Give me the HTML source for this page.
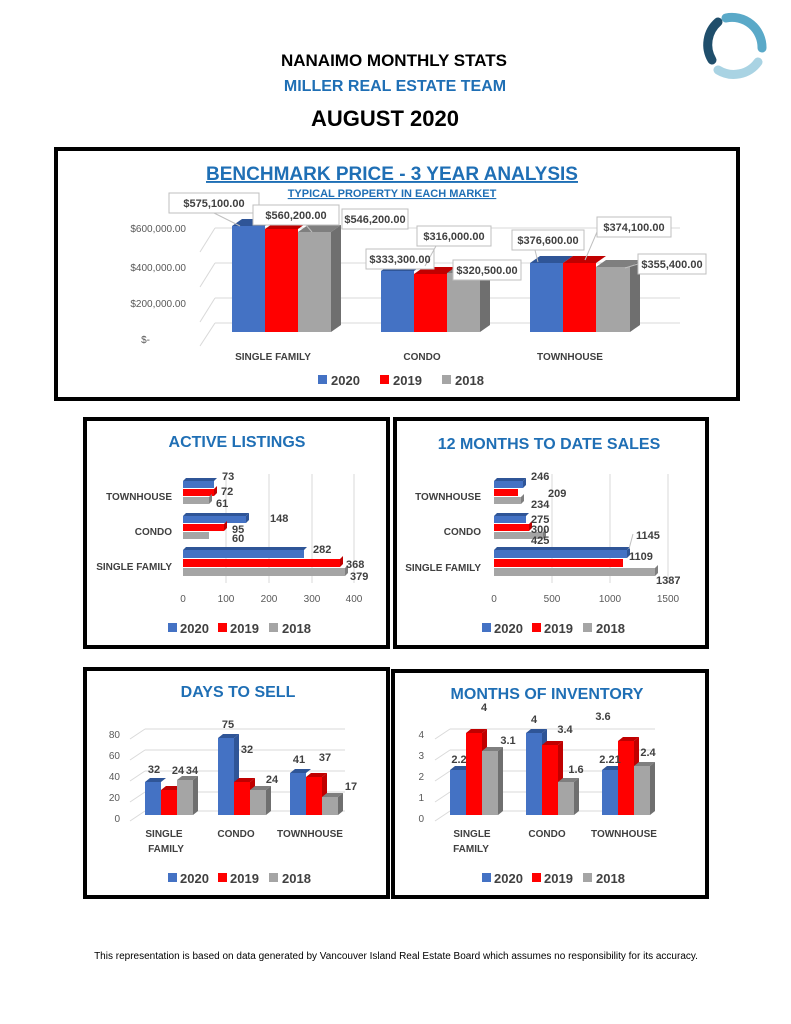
<!DOCTYPE html>
<html><head><meta charset="utf-8"><style>
html,body{margin:0;padding:0;background:#fff;}
svg{display:block;font-family:"Liberation Sans",sans-serif;}
.b{font-weight:bold;}
.lab{font-size:10px;fill:#404040;font-weight:bold;}
.ax{font-size:10px;fill:#595959;}
.val{font-size:11px;fill:#404040;font-weight:bold;}
.t{fill:#1F6FB5;font-weight:bold;text-anchor:middle;}
.g{stroke:#D9D9D9;stroke-width:1;}
</style></head><body>
<svg width="791" height="1024" viewBox="0 0 791 1024" xmlns="http://www.w3.org/2000/svg">
<rect width="791" height="1024" fill="#fff"/>
<!-- logo -->
<g fill="none" stroke-linecap="round">
<path d="M712 60 A30 30 0 0 1 718 22" stroke="#1F4E6B" stroke-width="9"/>
<path d="M726 18 A30 30 0 0 1 762 48" stroke="#5AA9C8" stroke-width="9"/>
<path d="M758 62 A30 30 0 0 1 718 70" stroke="#A9D3E3" stroke-width="9"/>
</g>
<!-- header -->
<text x="394" y="66" text-anchor="middle" class="b" font-size="17">NANAIMO MONTHLY STATS</text>
<text x="395" y="91" text-anchor="middle" class="b" font-size="16" fill="#1F6FB5">MILLER REAL ESTATE TEAM</text>
<text x="385" y="126" text-anchor="middle" class="b" font-size="22">AUGUST 2020</text>

<!-- box 1 -->
<rect x="56" y="149" width="682" height="250" fill="none" stroke="#000" stroke-width="4"/>
<text x="392" y="180" class="t" font-size="19" text-decoration="underline">BENCHMARK PRICE - 3 YEAR ANALYSIS</text>
<text x="392" y="197" class="t" font-size="11" text-decoration="underline">TYPICAL PROPERTY IN EACH MARKET</text>
<g class="g"><line x1="215" y1="228" x2="680" y2="228"/><line x1="215" y1="263" x2="680" y2="263"/><line x1="215" y1="298" x2="680" y2="298"/><line x1="215" y1="323" x2="680" y2="323"/>
<line x1="200" y1="252" x2="215" y2="228"/><line x1="200" y1="287" x2="215" y2="263"/><line x1="200" y1="322" x2="215" y2="298"/><line x1="200" y1="346" x2="215" y2="323"/></g>
<g class="ax" font-size="10.5" text-anchor="end" fill="#404040">
<text x="186" y="232">$600,000.00</text><text x="186" y="271">$400,000.00</text><text x="186" y="307">$200,000.00</text><text x="150" y="343">$-</text></g>
<!-- bars big -->
<g>
<polygon points="232,226 242,219 275,219 265,226" fill="#2F5597"/><rect x="232" y="226" width="33" height="106" fill="#4472C4"/>
<polygon points="265,229 275,222 308,222 298,229" fill="#C00000"/><rect x="265" y="229" width="33" height="103" fill="#FF0000"/>
<polygon points="298,232 308,225 341,225 331,232" fill="#7F7F7F"/><polygon points="331,232 341,225 341,325 331,332" fill="#6F6F6F"/><rect x="298" y="232" width="33" height="100" fill="#A5A5A5"/>

<polygon points="381,271 391,264 424,264 414,271" fill="#2F5597"/><rect x="381" y="271" width="33" height="61" fill="#4472C4"/>
<polygon points="414,274 424,267 457,267 447,274" fill="#C00000"/><rect x="414" y="274" width="33" height="58" fill="#FF0000"/>
<polygon points="447,273 457,266 490,266 480,273" fill="#7F7F7F"/><polygon points="480,273 490,266 490,325 480,332" fill="#6F6F6F"/><rect x="447" y="273" width="33" height="59" fill="#A5A5A5"/>

<polygon points="530,263 540,256 573,256 563,263" fill="#2F5597"/><rect x="530" y="263" width="33" height="69" fill="#4472C4"/>
<polygon points="563,263 573,256 606,256 596,263" fill="#C00000"/><rect x="563" y="263" width="33" height="69" fill="#FF0000"/>
<polygon points="596,267 606,260 640,260 630,267" fill="#7F7F7F"/><polygon points="630,267 640,260 640,325 630,332" fill="#6F6F6F"/><rect x="596" y="267" width="34" height="65" fill="#A5A5A5"/>
</g>
<!-- labels big -->
<g fill="#fff" stroke="#BFBFBF" stroke-width="1">
<rect x="169" y="193" width="90" height="20"/><rect x="253" y="205" width="86" height="20"/><rect x="342" y="209" width="66" height="20"/>
<rect x="366" y="249" width="68" height="20"/><rect x="417" y="226" width="74" height="20"/><rect x="453" y="260" width="68" height="20"/>
<rect x="512" y="230" width="72" height="20"/><rect x="597" y="217" width="74" height="20"/><rect x="638" y="254" width="68" height="20"/>
</g>
<g stroke="#BFBFBF"><line x1="214" y1="213" x2="240" y2="226"/><line x1="306" y1="225" x2="312" y2="232"/><line x1="425" y1="266" x2="436" y2="246"/><line x1="535" y1="250" x2="538" y2="262"/><line x1="597" y1="232" x2="585" y2="260"/><line x1="638" y1="264" x2="625" y2="268"/></g>
<g class="val" font-size="10.5" text-anchor="middle">
<text x="214" y="207">$575,100.00</text><text x="296" y="219">$560,200.00</text><text x="375" y="223">$546,200.00</text>
<text x="400" y="263">$333,300.00</text><text x="454" y="240">$316,000.00</text><text x="487" y="274">$320,500.00</text>
<text x="548" y="244">$376,600.00</text><text x="634" y="231">$374,100.00</text><text x="672" y="268">$355,400.00</text></g>
<g class="lab" font-size="11" text-anchor="middle"><text x="273" y="360">SINGLE FAMILY</text><text x="422" y="360">CONDO</text><text x="570" y="360">TOWNHOUSE</text></g>
<g class="b" font-size="13" fill="#404040">
<rect x="318" y="375" width="9" height="9" fill="#4472C4"/><text x="331" y="385">2020</text>
<rect x="380" y="375" width="9" height="9" fill="#FF0000"/><text x="393" y="385">2019</text>
<rect x="442" y="375" width="9" height="9" fill="#A5A5A5"/><text x="455" y="385">2018</text></g>

<!-- boxes -->
<g fill="none" stroke="#000" stroke-width="4">
<rect x="85" y="419" width="303" height="228"/><rect x="395" y="419" width="312" height="228"/>
<rect x="85" y="669" width="303" height="228"/><rect x="393" y="671" width="314" height="226"/></g>

<!-- Active listings -->
<text x="237" y="447" class="t" font-size="16">ACTIVE LISTINGS</text>
<g class="g"><line x1="226" y1="474" x2="226" y2="583"/><line x1="269" y1="474" x2="269" y2="583"/><line x1="312" y1="474" x2="312" y2="583"/><line x1="354" y1="474" x2="354" y2="583"/></g>
<g>
<polygon points="183,481 186,478 217,478 214,481" fill="#2F5597"/><rect x="183" y="481" width="31" height="7" fill="#4472C4"/>
<rect x="183" y="489" width="31" height="7" fill="#FF0000"/><polygon points="214,489 217,486 217,493 214,496" fill="#C00000"/>
<rect x="183" y="497" width="26" height="7" fill="#A5A5A5"/><polygon points="209,497 212,494 212,501 209,504" fill="#7F7F7F"/>
<polygon points="183,516 186,513 249,513 246,516" fill="#2F5597"/><rect x="183" y="516" width="63" height="7" fill="#4472C4"/><polygon points="246,516 249,513 249,520 246,523" fill="#2F5597"/>
<rect x="183" y="524" width="41" height="7" fill="#FF0000"/><polygon points="224,524 227,521 227,528 224,531" fill="#C00000"/>
<rect x="183" y="532" width="26" height="7" fill="#A5A5A5"/>
<polygon points="183,550 186,547 307,547 304,550" fill="#2F5597"/><rect x="183" y="550" width="121" height="8" fill="#4472C4"/>
<rect x="183" y="559" width="157" height="8" fill="#FF0000"/><polygon points="340,559 343,556 343,564 340,567" fill="#C00000"/>
<rect x="183" y="568" width="162" height="8" fill="#A5A5A5"/><polygon points="345,568 348,565 348,573 345,576" fill="#7F7F7F"/>
</g>
<g class="lab" text-anchor="end"><text x="172" y="500">TOWNHOUSE</text><text x="172" y="535">CONDO</text><text x="172" y="570">SINGLE FAMILY</text></g>
<g class="val"><text x="222" y="480">73</text><text x="221" y="495">72</text><text x="216" y="507">61</text><text x="270" y="522">148</text><text x="232" y="533">95</text><text x="232" y="542">60</text><text x="313" y="553">282</text><text x="346" y="568">368</text><text x="350" y="580">379</text></g>
<g class="ax" text-anchor="middle"><text x="183" y="602">0</text><text x="226" y="602">100</text><text x="269" y="602">200</text><text x="312" y="602">300</text><text x="354" y="602">400</text></g>
<g class="b" font-size="13" fill="#404040">
<rect x="168" y="623" width="9" height="9" fill="#4472C4"/><text x="180" y="633">2020</text>
<rect x="218" y="623" width="9" height="9" fill="#FF0000"/><text x="230" y="633">2019</text>
<rect x="269" y="623" width="9" height="9" fill="#A5A5A5"/><text x="282" y="633">2018</text></g>

<!-- 12 months sales -->
<text x="549" y="449" class="t" font-size="16">12 MONTHS TO DATE SALES</text>
<g class="g"><line x1="552" y1="474" x2="552" y2="583"/><line x1="610" y1="474" x2="610" y2="583"/><line x1="668" y1="474" x2="668" y2="583"/></g>
<g>
<polygon points="494,481 497,478 526,478 523,481" fill="#2F5597"/><rect x="494" y="481" width="29" height="7" fill="#4472C4"/><polygon points="523,481 526,478 526,485 523,488" fill="#2F5597"/>
<rect x="494" y="489" width="24" height="7" fill="#FF0000"/>
<rect x="494" y="497" width="27" height="7" fill="#A5A5A5"/><polygon points="521,497 524,494 524,501 521,504" fill="#7F7F7F"/>
<polygon points="494,516 497,513 529,513 526,516" fill="#2F5597"/><rect x="494" y="516" width="32" height="7" fill="#4472C4"/>
<rect x="494" y="524" width="35" height="7" fill="#FF0000"/><polygon points="529,524 532,521 532,528 529,531" fill="#C00000"/>
<rect x="494" y="532" width="49" height="7" fill="#A5A5A5"/><polygon points="543,532 546,529 546,536 543,539" fill="#7F7F7F"/>
<polygon points="494,550 497,547 630,547 627,550" fill="#2F5597"/><rect x="494" y="550" width="133" height="8" fill="#4472C4"/><polygon points="627,550 630,547 630,555 627,558" fill="#2F5597"/>
<rect x="494" y="559" width="129" height="8" fill="#FF0000"/>
<rect x="494" y="568" width="161" height="8" fill="#A5A5A5"/><polygon points="655,568 658,565 658,573 655,576" fill="#7F7F7F"/>
</g>
<g class="lab" text-anchor="end"><text x="481" y="500">TOWNHOUSE</text><text x="481" y="535">CONDO</text><text x="481" y="571">SINGLE FAMILY</text></g>
<g class="val"><text x="531" y="480">246</text><text x="548" y="497">209</text><text x="531" y="508">234</text><text x="531" y="523">275</text><text x="531" y="533">300</text><text x="531" y="544">425</text><text x="636" y="539">1145</text><text x="629" y="560">1109</text><text x="656" y="584">1387</text></g>
<line x1="633" y1="534" x2="629" y2="549" stroke="#BFBFBF"/>
<g class="ax" text-anchor="middle"><text x="494" y="602">0</text><text x="552" y="602">500</text><text x="610" y="602">1000</text><text x="668" y="602">1500</text></g>
<g class="b" font-size="13" fill="#404040">
<rect x="482" y="623" width="9" height="9" fill="#4472C4"/><text x="494" y="633">2020</text>
<rect x="532" y="623" width="9" height="9" fill="#FF0000"/><text x="544" y="633">2019</text>
<rect x="583" y="623" width="9" height="9" fill="#A5A5A5"/><text x="596" y="633">2018</text></g>

<!-- Days to sell -->
<text x="238" y="697" class="t" font-size="16">DAYS TO SELL</text>
<g class="g"><line x1="145" y1="729" x2="345" y2="729"/><line x1="145" y1="750" x2="345" y2="750"/><line x1="145" y1="771" x2="345" y2="771"/><line x1="145" y1="792" x2="345" y2="792"/><line x1="145" y1="811" x2="345" y2="811"/>
<line x1="130" y1="739" x2="145" y2="729"/><line x1="130" y1="760" x2="145" y2="750"/><line x1="130" y1="781" x2="145" y2="771"/><line x1="130" y1="802" x2="145" y2="792"/><line x1="130" y1="821" x2="145" y2="811"/></g>
<g class="ax" text-anchor="end"><text x="120" y="738">80</text><text x="120" y="759">60</text><text x="120" y="780">40</text><text x="120" y="801">20</text><text x="120" y="822">0</text></g>
<g>
<polygon points="145,782 150,778 166,778 161,782" fill="#2F5597"/><rect x="145" y="782" width="16" height="33" fill="#4472C4"/>
<polygon points="161,790 166,786 182,786 177,790" fill="#C00000"/><rect x="161" y="790" width="16" height="25" fill="#FF0000"/>
<polygon points="177,780 182,776 198,776 193,780" fill="#7F7F7F"/><polygon points="193,780 198,776 198,811 193,815" fill="#6F6F6F"/><rect x="177" y="780" width="16" height="35" fill="#A5A5A5"/>
<polygon points="218,738 223,734 239,734 234,738" fill="#2F5597"/><polygon points="234,738 239,734 239,811 234,815" fill="#2F5597"/><rect x="218" y="738" width="16" height="77" fill="#4472C4"/>
<polygon points="234,782 239,778 255,778 250,782" fill="#C00000"/><polygon points="250,782 255,778 255,811 250,815" fill="#C00000"/><rect x="234" y="782" width="16" height="33" fill="#FF0000"/>
<polygon points="250,790 255,786 271,786 266,790" fill="#7F7F7F"/><polygon points="266,790 271,786 271,811 266,815" fill="#6F6F6F"/><rect x="250" y="790" width="16" height="25" fill="#A5A5A5"/>
<polygon points="290,773 295,769 311,769 306,773" fill="#2F5597"/><rect x="290" y="773" width="16" height="42" fill="#4472C4"/>
<polygon points="306,777 311,773 327,773 322,777" fill="#C00000"/><polygon points="322,777 327,773 327,811 322,815" fill="#C00000"/><rect x="306" y="777" width="16" height="38" fill="#FF0000"/>
<polygon points="322,797 327,793 343,793 338,797" fill="#7F7F7F"/><polygon points="338,797 343,793 343,811 338,815" fill="#6F6F6F"/><rect x="322" y="797" width="16" height="18" fill="#A5A5A5"/>
</g>
<g class="val" text-anchor="middle"><text x="154" y="773">32</text><text x="178" y="774">24</text><text x="192" y="774">34</text><text x="228" y="728">75</text><text x="247" y="753">32</text><text x="272" y="783">24</text><text x="299" y="763">41</text><text x="325" y="761">37</text><text x="351" y="790">17</text></g>
<g class="lab" text-anchor="middle"><text x="164" y="837">SINGLE</text><text x="166" y="852">FAMILY</text><text x="236" y="837">CONDO</text><text x="310" y="837">TOWNHOUSE</text></g>
<g class="b" font-size="13" fill="#404040">
<rect x="168" y="873" width="9" height="9" fill="#4472C4"/><text x="180" y="883">2020</text>
<rect x="218" y="873" width="9" height="9" fill="#FF0000"/><text x="230" y="883">2019</text>
<rect x="269" y="873" width="9" height="9" fill="#A5A5A5"/><text x="282" y="883">2018</text></g>

<!-- Months of inventory -->
<text x="547" y="699" class="t" font-size="16">MONTHS OF INVENTORY</text>
<g class="g"><line x1="450" y1="729" x2="655" y2="729"/><line x1="450" y1="750" x2="655" y2="750"/><line x1="450" y1="771" x2="655" y2="771"/><line x1="450" y1="792" x2="655" y2="792"/><line x1="450" y1="811" x2="655" y2="811"/>
<line x1="435" y1="739" x2="450" y2="729"/><line x1="435" y1="760" x2="450" y2="750"/><line x1="435" y1="781" x2="450" y2="771"/><line x1="435" y1="802" x2="450" y2="792"/><line x1="435" y1="821" x2="450" y2="811"/></g>
<g class="ax" text-anchor="end"><text x="424" y="738">4</text><text x="424" y="759">3</text><text x="424" y="780">2</text><text x="424" y="801">1</text><text x="424" y="822">0</text></g>
<g>
<polygon points="450,770 455,766 471,766 466,770" fill="#2F5597"/><rect x="450" y="770" width="16" height="45" fill="#4472C4"/>
<polygon points="466,733 471,729 487,729 482,733" fill="#C00000"/><polygon points="482,733 487,729 487,811 482,815" fill="#C00000"/><rect x="466" y="733" width="16" height="82" fill="#FF0000"/>
<polygon points="482,751 487,747 503,747 498,751" fill="#7F7F7F"/><polygon points="498,751 503,747 503,811 498,815" fill="#6F6F6F"/><rect x="482" y="751" width="16" height="64" fill="#A5A5A5"/>
<polygon points="526,733 531,729 547,729 542,733" fill="#2F5597"/><polygon points="542,733 547,729 547,811 542,815" fill="#2F5597"/><rect x="526" y="733" width="16" height="82" fill="#4472C4"/>
<polygon points="542,745 547,741 563,741 558,745" fill="#C00000"/><polygon points="558,745 563,741 563,811 558,815" fill="#C00000"/><rect x="542" y="745" width="16" height="70" fill="#FF0000"/>
<polygon points="558,782 563,778 579,778 574,782" fill="#7F7F7F"/><polygon points="574,782 579,778 579,811 574,815" fill="#6F6F6F"/><rect x="558" y="782" width="16" height="33" fill="#A5A5A5"/>
<polygon points="602,770 607,766 623,766 618,770" fill="#2F5597"/><rect x="602" y="770" width="16" height="45" fill="#4472C4"/>
<polygon points="618,741 623,737 639,737 634,741" fill="#C00000"/><polygon points="634,741 639,737 639,811 634,815" fill="#C00000"/><rect x="618" y="741" width="16" height="74" fill="#FF0000"/>
<polygon points="634,766 639,762 655,762 650,766" fill="#7F7F7F"/><polygon points="650,766 655,762 655,811 650,815" fill="#6F6F6F"/><rect x="634" y="766" width="16" height="49" fill="#A5A5A5"/>
</g>
<g class="val" text-anchor="middle"><text x="459" y="763">2.2</text><text x="484" y="711">4</text><text x="508" y="744">3.1</text><text x="534" y="723">4</text><text x="565" y="733">3.4</text><text x="576" y="773">1.6</text><text x="610" y="763">2.21</text><text x="603" y="720">3.6</text><text x="648" y="756">2.4</text></g>
<g class="lab" text-anchor="middle"><text x="472" y="837">SINGLE</text><text x="471" y="852">FAMILY</text><text x="547" y="837">CONDO</text><text x="624" y="837">TOWNHOUSE</text></g>
<g class="b" font-size="13" fill="#404040">
<rect x="482" y="873" width="9" height="9" fill="#4472C4"/><text x="494" y="883">2020</text>
<rect x="532" y="873" width="9" height="9" fill="#FF0000"/><text x="544" y="883">2019</text>
<rect x="583" y="873" width="9" height="9" fill="#A5A5A5"/><text x="596" y="883">2018</text></g>

<text x="396" y="959" text-anchor="middle" font-size="10">This representation is based on data generated by Vancouver Island Real Estate Board which assumes no responsibility for its accuracy.</text>
</svg>
</body></html>
